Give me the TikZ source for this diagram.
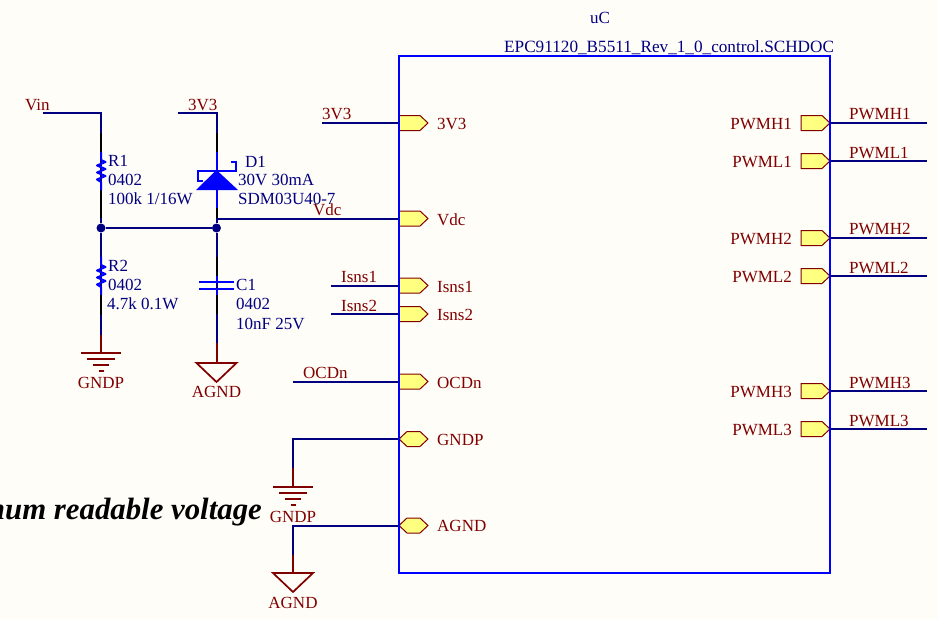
\documentclass[tikz,border=0pt]{standalone}
\usepackage{fontspec}
\setmainfont{Liberation Serif}
\usepackage{xcolor}
\definecolor{paper}{HTML}{FFFDF8}
\definecolor{wirecol}{HTML}{000080}
\definecolor{symcol}{HTML}{0000FF}
\definecolor{netcol}{HTML}{800000}
\definecolor{portfill}{HTML}{FFFF80}
\tikzstyle{netlbl}=[anchor=base west, inner sep=0pt, text=netcol, font=\fontsize{17}{20}\selectfont]
\tikzstyle{netlblr}=[netlbl, anchor=base east]
\tikzstyle{netlblc}=[netlbl, anchor=base]
\tikzstyle{partlbl}=[netlbl, text=wirecol]
\tikzstyle{wire}=[line width=2pt, wirecol]
\tikzstyle{pinblk}=[line width=2pt, black]
\tikzstyle{symline}=[line width=2pt, symcol]
\tikzstyle{netline}=[line width=2pt, netcol]
\tikzstyle{portline}=[line width=1pt, netcol, fill=portfill, line join=miter]
\tikzstyle{junct}=[circle, fill=wirecol, inner sep=0pt, minimum size=9pt]
\tikzset{
  portout/.pic={\draw[portline] (0,-7.5) -- (21,-7.5) -- (29,0) -- (21,7.5) -- (0,7.5) -- cycle;},
  portbi/.pic={\draw[portline] (0,0) -- (8,-7.5) -- (21,-7.5) -- (29,0) -- (21,7.5) -- (8,7.5) -- cycle;},
  gndsym/.pic={
    \draw[netline] (-20,0) -- (20,0);
    \draw[netline] (-14,6) -- (14,6);
    \draw[netline] (-8,12) -- (8,12);
    \draw[netline] (-2.5,18) -- (2.5,18);},
  agndsym/.pic={\draw[netline, line width=1.7pt, line join=miter] (-20,0) -- (20,0) -- (0,19) -- cycle;},
  ressym/.pic={\draw[symline, line join=round] (0,0) -- (0,8) -- (4.5,10) -- (-4,13.5) -- (4.5,17) -- (-4,20.5) -- (4.5,24) -- (-4,27.5) -- (0,30) -- (0,38);}
}
\begin{document}
\begin{tikzpicture}[x=1pt, y=-1pt]
            \fill[paper] (0,0) rectangle (938,619);
            \useasboundingbox (0,0) rectangle (938,619);
            \clip (0,0) rectangle (938,619);

            % coordenadas
            \coordinate (vin) at (43,113);
            \coordinate (r1top) at (101,113);
            \coordinate (r1pin) at (101,133);
            \coordinate (r1a) at (101,152);
            \coordinate (r1b) at (101,190);
            \coordinate (r1low) at (101,218);
            \coordinate (r2a) at (101,257);
            \coordinate (r2b) at (101,295);
            \coordinate (r2low) at (101,315);
            \coordinate (r2net) at (101,335);
            \coordinate (gndp1) at (101,353);
            \coordinate (vcc) at (178,113);
            \coordinate (d1top) at (216.5,113);
            \coordinate (d1pin) at (216.5,133);
            \coordinate (d1a) at (216.5,152);
            \coordinate (d1b) at (216.5,208);
            \coordinate (d1low) at (216.5,218);
            \coordinate (c1a) at (216.5,257);
            \coordinate (c1b) at (216.5,276);
            \coordinate (c1c) at (216.5,282);
            \coordinate (c1d) at (216.5,289);
            \coordinate (c1e) at (216.5,295);
            \coordinate (c1f) at (216.5,314);
            \coordinate (c1net) at (216.5,343);
            \coordinate (agnd1) at (216.5,363);
            \coordinate (g2corner) at (293,439);
            \coordinate (g2net) at (293,468);
            \coordinate (gndp2) at (293,487);
            \coordinate (a2corner) at (293,525.5);
            \coordinate (a2net) at (293,555);
            \coordinate (agnd2) at (293,573);

            % nodos de union
            \node[junct] (j1) at (101,228) {};
            \node[junct] (j2) at (216.5,228) {};

            % cables
            \draw[wire] (vin) -- (r1top) -- (j1);
            \draw[wire] (vcc) -- (d1top) -- (j2);
            \draw[wire] (j1) -- (j2);
            \draw[wire] (j1) -- (r2net);
            \draw[wire] (j2) -- (c1net);
            \draw[pinblk] (r1pin) -- (r1a);
            \draw[pinblk] (r1b) -- (r1low);
            \draw[pinblk] (r2b) -- (r2low);
            \draw[pinblk] (d1pin) -- (d1a);
            \draw[pinblk] (d1b) -- (d1low);
            \draw[pinblk] (c1a) -- (c1b);
            \draw[pinblk] (c1e) -- (c1f);
            \draw[netline] (r2net) -- (gndp1);
            \draw[netline] (c1net) -- (agnd1);

            % R1, R2
            \pic at (r1a) {ressym};
            \pic at (r2a) {ressym};
            \node[partlbl] (r1name) at (108,166) {R1};
            \node[partlbl] (r1pkg) at (108,185) {0402};
            \node[partlbl] (r1val) at (108,204) {100k 1/16W};
            \node[partlbl] (r2name) at (108,271) {R2};
            \node[partlbl] (r2pkg) at (108,290) {0402};
            \node[partlbl] (r2val) at (107,309) {4.7k 0.1W};

            % D1
            \draw[symline] (d1a) -- (d1b);
            \fill[symcol] (216.5,170) -- (238,190) -- (196,190) -- cycle;
            \draw[symline] (203,180.5) -- (197.5,180.5) -- (197.5,170.5) -- (236,170.5) -- (236,161.5) -- (231,161.5);
            \node[partlbl] (d1name) at (245,167) {D1};
            \node[partlbl] (d1pkg) at (238,185) {30V 30mA};
            \node[partlbl] (d1val) at (238,204) {SDM03U40-7};

            % C1
            \draw[symline] (c1b) -- (c1c);
            \draw[symline] (c1d) -- (c1e);
            \draw[symline] (199,282) -- (234,282);
            \draw[symline] (199,289) -- (234,289);
            \node[partlbl] (c1name) at (236,290) {C1};
            \node[partlbl] (c1pkg) at (236,309) {0402};
            \node[partlbl] (c1val) at (236,329) {10nF 25V};

            % tierras
            \pic at (gndp1) {gndsym};
            \pic at (agnd1) {agndsym};
            \pic at (gndp2) {gndsym};
            \pic at (agnd2) {agndsym};
            \node[netlblc] (gndp1lbl) at (101,388) {GNDP};
            \node[netlblc] (agnd1lbl) at (216.5,397) {AGND};
            \node[netlblc] (gndp2lbl) at (293,522) {GNDP};
            \node[netlblc] (agnd2lbl) at (293,608) {AGND};
            \node[netlbl] (vinlbl) at (25,110) {Vin};
            \node[netlbl] (vcclbl) at (188,110) {3V3};

            % puertos izquierda
            \coordinate (p3v3) at (399,123);
            \coordinate (pvdc) at (399,218.5);
            \coordinate (pis1) at (399,285.5);
            \coordinate (pis2) at (399,314);
            \coordinate (pocd) at (399,381.5);
            \coordinate (pgnd) at (399,439);
            \coordinate (pagn) at (399,525.5);
            \coordinate (w3v3) at (322,123);
            \coordinate (wvdc) at (216.5,218.5);
            \coordinate (wis1) at (331,285.5);
            \coordinate (wis2) at (331,314);
            \coordinate (wocd) at (293,381.5);
            \draw[wire] (w3v3) -- (p3v3);
            \draw[wire] (wvdc) -- (pvdc);
            \draw[wire] (wis1) -- (pis1);
            \draw[wire] (wis2) -- (pis2);
            \draw[wire] (wocd) -- (pocd);
            \draw[wire] (pgnd) -- (g2corner) -- (g2net);
            \draw[wire] (pagn) -- (a2corner) -- (a2net);
            \draw[netline] (g2net) -- (gndp2);
            \draw[netline] (a2net) -- (agnd2);
            \pic at (p3v3) {portout};
            \pic at (pvdc) {portout};
            \pic at (pis1) {portout};
            \pic at (pis2) {portout};
            \pic at (pocd) {portout};
            \pic at (pgnd) {portbi};
            \pic at (pagn) {portbi};
            \node[netlbl] (w3v3lbl) at (322,119) {3V3};
            \node[netlbl] (wvdclbl) at (313,215) {Vdc};
            \node[netlbl] (wis1lbl) at (341,282) {Isns1};
            \node[netlbl] (wis2lbl) at (341,311) {Isns2};
            \node[netlbl] (wocdlbl) at (303,378) {OCDn};
            \node[netlbl] (p3v3lbl) at (437,129) {3V3};
            \node[netlbl] (pvdclbl) at (437,225) {Vdc};
            \node[netlbl] (pis1lbl) at (437,292) {Isns1};
            \node[netlbl] (pis2lbl) at (437,320) {Isns2};
            \node[netlbl] (pocdlbl) at (437,388) {OCDn};
            \node[netlbl] (pgndlbl) at (437,445) {GNDP};
            \node[netlbl] (pagnlbl) at (437,531) {AGND};

            % puertos derecha
            \coordinate (ph1) at (801,123);
            \coordinate (pl1) at (801,161);
            \coordinate (ph2) at (801,238);
            \coordinate (pl2) at (801,276);
            \coordinate (ph3) at (801,391);
            \coordinate (pl3) at (801,429);
            \coordinate (wh1) at (927,123);
            \coordinate (wl1) at (927,161);
            \coordinate (wh2) at (927,238);
            \coordinate (wl2) at (927,276);
            \coordinate (wh3) at (927,391);
            \coordinate (wl3) at (927,429);
            \draw[wire] (ph1) -- (wh1);
            \draw[wire] (pl1) -- (wl1);
            \draw[wire] (ph2) -- (wh2);
            \draw[wire] (pl2) -- (wl2);
            \draw[wire] (ph3) -- (wh3);
            \draw[wire] (pl3) -- (wl3);
            \pic at (ph1) {portout};
            \pic at (pl1) {portout};
            \pic at (ph2) {portout};
            \pic at (pl2) {portout};
            \pic at (ph3) {portout};
            \pic at (pl3) {portout};
            \node[netlblr] (ph1lbl) at (792,129) {PWMH1};
            \node[netlblr] (pl1lbl) at (792,167) {PWML1};
            \node[netlblr] (ph2lbl) at (792,244) {PWMH2};
            \node[netlblr] (pl2lbl) at (792,282) {PWML2};
            \node[netlblr] (ph3lbl) at (792,397) {PWMH3};
            \node[netlblr] (pl3lbl) at (792,435) {PWML3};
            \node[netlbl] (wh1lbl) at (849,119) {PWMH1};
            \node[netlbl] (wl1lbl) at (849,158) {PWML1};
            \node[netlbl] (wh2lbl) at (849,234) {PWMH2};
            \node[netlbl] (wl2lbl) at (849,273) {PWML2};
            \node[netlbl] (wh3lbl) at (849,388) {PWMH3};
            \node[netlbl] (wl3lbl) at (849,426) {PWML3};

            % hoja
            \node[inner sep=0pt] (sheettl) at (398.5,56) {};
            \node[inner sep=0pt] (sheetbr) at (830,573) {};
            \draw[symline] (sheettl) rectangle (sheetbr);
            \node[partlbl, anchor=base] (uc) at (600,23) {uC};
            \node[partlbl, font=\fontsize{17.2}{20}\selectfont] (sheetfile) at (504,52) {EPC91120\_B5511\_Rev\_1\_0\_control.SCHDOC};

            % nota
            \node[anchor=base east, inner sep=0pt, font=\fontsize{30.8}{34}\selectfont\bfseries\itshape] (notelbl) at (262,519) {mum readable voltage};
        \end{tikzpicture}
\end{document}
